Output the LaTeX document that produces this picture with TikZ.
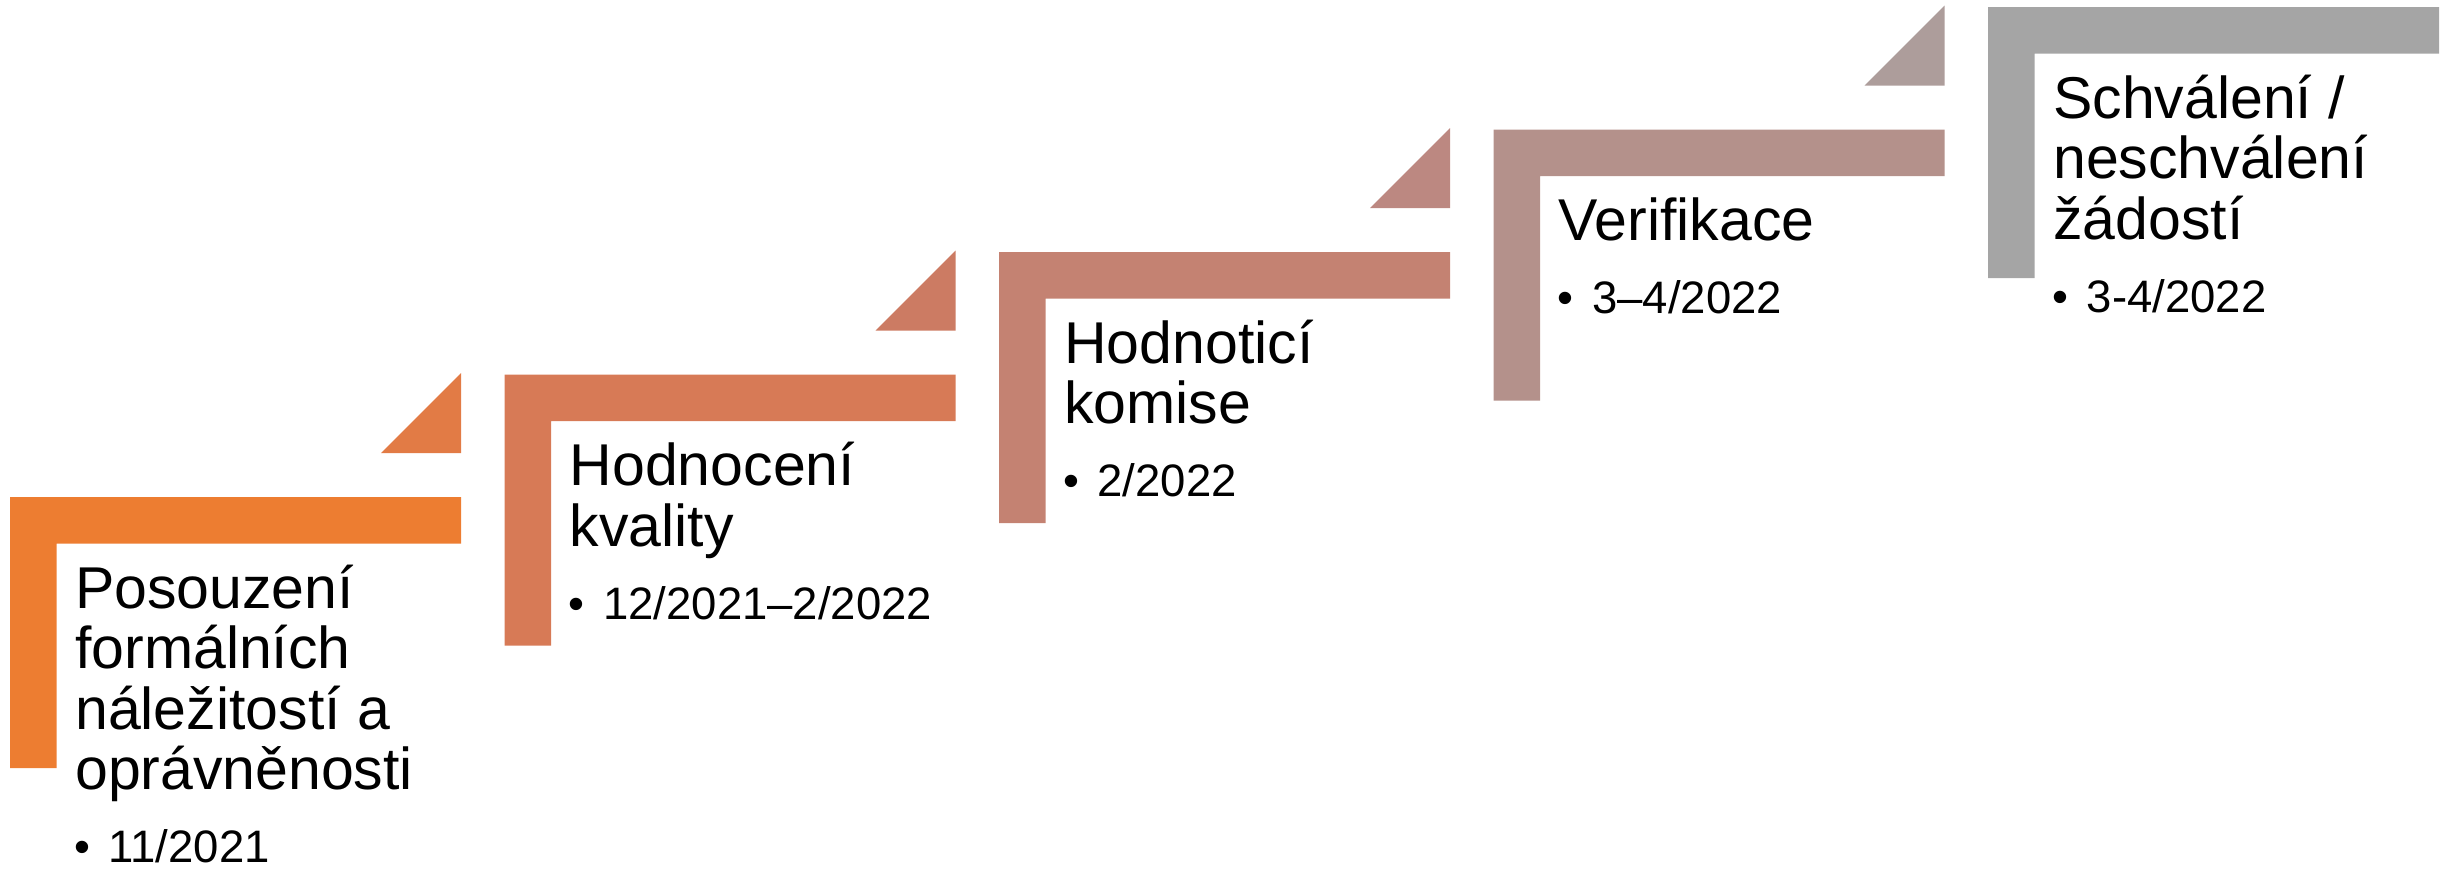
\documentclass[tikz,border=0pt]{standalone}
\usepackage{fontspec}
\setmainfont{Liberation Sans}
\definecolor{c1}{HTML}{ED7D31}
\definecolor{t1}{HTML}{E27B45}
\definecolor{c2}{HTML}{D77A56}
\definecolor{t2}{HTML}{CC7B63}
\definecolor{c3}{HTML}{C48272}
\definecolor{t3}{HTML}{BC8881}
\definecolor{c4}{HTML}{B4918B}
\definecolor{t4}{HTML}{AD9D9B}
\definecolor{c5}{HTML}{A5A5A5}
\begin{document}
\begin{tikzpicture}[x=1pt,y=-1pt,
  steptitle/.style={anchor=base west, inner sep=0pt, align=left, font=\fontsize{59}{60.5}\selectfont},
  stepdate/.style={anchor=base west, inner sep=0pt, font=\fontsize{45.5}{50}\selectfont}]
\useasboundingbox (0,0) rectangle (2453,868);
% L-shaped steps
\foreach \k/\cl in {0/c1,1/c2,2/c3,3/c4,4/c5} {
  \pgfmathsetmacro\L{10+494.5*\k}
  \pgfmathsetmacro\T{497-122.5*\k}
  \fill[\cl] (\L,\T) -- ++(451,0) -- ++(0,46.5) -- ++(-404.5,0) -- ++(0,224.5) -- ++(-46.5,0) -- cycle;
}
% connecting triangles
\foreach \k/\cl in {0/t1,1/t2,2/t3,3/t4} {
  \pgfmathsetmacro\R{461+494.5*\k}
  \pgfmathsetmacro\T{497-122.5*\k}
  \fill[\cl] (\R-80,\T-44) -- (\R,\T-44) -- (\R,\T-124) -- cycle;
}
% texts (anchor = baseline of the last line)
\node[steptitle] (s1) at (75,789.5) {Posouzení\\formálních\\náležitostí a\\oprávněnosti};
\node[stepdate] (d1) at (74,862) {\makebox[34.5pt][l]{•}11/2021};
\node[steptitle] (s2) at (569.5,546) {Hodnocení\\kvality};
\node[stepdate] (d2) at (568.5,619) {\makebox[34.5pt][l]{•}12/2021–2/2022};
\node[steptitle] (s3) at (1064,423.5) {Hodnoticí\\komise};
\node[stepdate] (d3) at (1063,496.5) {\makebox[34.5pt][l]{•}2/2022};
\node[steptitle] (s4) at (1558.5,240.5) {Verifikace};
\node[stepdate] (d4) at (1557.5,313.5) {\makebox[34.5pt][l]{•}3–4/2022};
\node[steptitle] (s5) at (2053,239) {Schválení /\\neschválení\\žádostí};
\node[stepdate] (d5) at (2052,312) {\makebox[34.5pt][l]{•}3-4/2022};
\end{tikzpicture}
\end{document}
